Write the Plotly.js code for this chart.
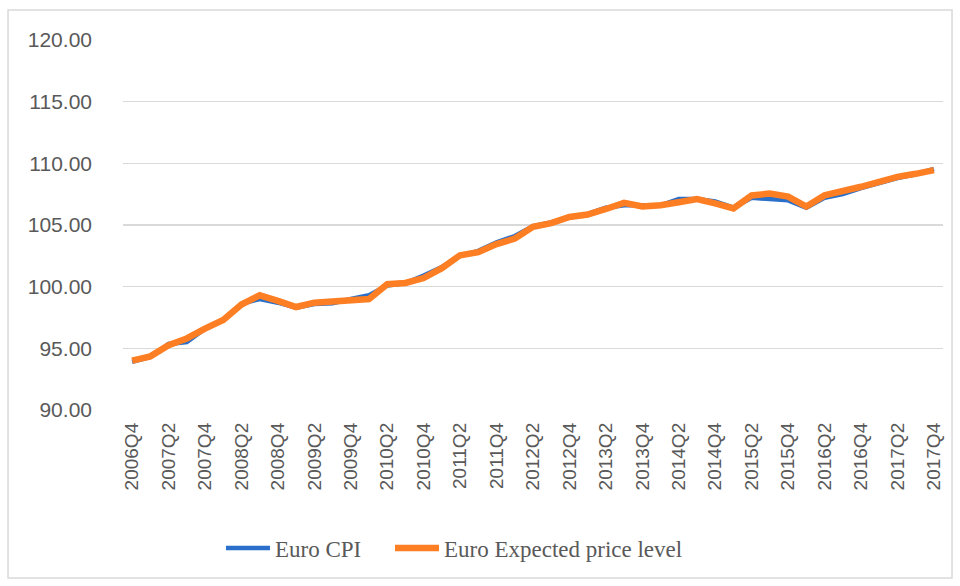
<!DOCTYPE html>
<html>
<head>
<meta charset="utf-8">
<script src="https://cdn.plot.ly/plotly-3.0.1.min.js"></script>
<style>
html,body{margin:0;padding:0;background:#fff;}
#chart{width:960px;height:586px;}
</style>
</head>
<body>
<div id="chart"></div>
<script>
const quarters = [
  "2006Q4",
  "2007Q1","2007Q2","2007Q3","2007Q4",
  "2008Q1","2008Q2","2008Q3","2008Q4",
  "2009Q1","2009Q2","2009Q3","2009Q4",
  "2010Q1","2010Q2","2010Q3","2010Q4",
  "2011Q1","2011Q2","2011Q3","2011Q4",
  "2012Q1","2012Q2","2012Q3","2012Q4",
  "2013Q1","2013Q2","2013Q3","2013Q4",
  "2014Q1","2014Q2","2014Q3","2014Q4",
  "2015Q1","2015Q2","2015Q3","2015Q4",
  "2016Q1","2016Q2","2016Q3","2016Q4",
  "2017Q1","2017Q2","2017Q3","2017Q4"
];

const euroCPI = [
  93.9,
  94.3, 95.35, 95.5, 96.6,
  97.3, 98.6, 99.0, 98.7,
  98.3, 98.6, 98.65, 99.0,
  99.3, 100.1, 100.3, 100.9,
  101.6, 102.5, 102.9, 103.6,
  104.1, 104.9, 105.2, 105.6,
  105.9, 106.4, 106.6, 106.6,
  106.6, 107.1, 107.1, 106.9,
  106.4, 107.2, 107.1, 107.0,
  106.4, 107.2, 107.5, 108.0,
  108.4, 108.8, 109.1, 109.55
];

const euroExpected = [
  94.0,
  94.35, 95.25, 95.8, 96.6,
  97.3, 98.55, 99.3, 98.85,
  98.35, 98.7, 98.8, 98.9,
  99.0, 100.2, 100.3, 100.7,
  101.5, 102.55, 102.8, 103.45,
  103.9, 104.85, 105.15, 105.65,
  105.85, 106.3, 106.8, 106.5,
  106.6, 106.85, 107.1, 106.75,
  106.35, 107.4, 107.55, 107.3,
  106.5, 107.4, 107.7, 108.1,
  108.5, 108.9, 109.15, 109.45
];

const tickQuarters = [
  "2006Q4","2007Q2","2007Q4","2008Q2","2008Q4","2009Q2","2009Q4",
  "2010Q2","2010Q4","2011Q2","2011Q4","2012Q2","2012Q4","2013Q2",
  "2013Q4","2014Q2","2014Q4","2015Q2","2015Q4","2016Q2","2016Q4",
  "2017Q2","2017Q4"
];

const yTicks = [90, 95, 100, 105, 110, 115, 120];

const traces = [
  {
    x: quarters, y: euroCPI, name: "Euro CPI", type: "scatter", mode: "lines",
    line: {color: "#2a6fc9", width: 4.5}, legend: "legend"
  },
  {
    x: quarters, y: euroExpected, name: "Euro Expected price level", type: "scatter", mode: "lines",
    line: {color: "#fd7e23", width: 6.5}, legend: "legend2"
  }
];

const legendFont = {family: "Liberation Serif, serif", size: 23, color: "#595959"};

const layout = {
  width: 960, height: 586,
  margin: {l: 123, r: 17, t: 40, b: 176},
  paper_bgcolor: "#ffffff",
  plot_bgcolor: "#ffffff",
  showlegend: true,
  legend: {
    orientation: "h", x: 0.1195, xanchor: "left", y: -0.373, yanchor: "middle",
    font: legendFont, itemwidth: 44, bgcolor: "rgba(0,0,0,0)"
  },
  legend2: {
    orientation: "h", x: 0.3256, xanchor: "left", y: -0.373, yanchor: "middle",
    font: legendFont, itemwidth: 44, bgcolor: "rgba(0,0,0,0)"
  },
  xaxis: {
    type: "category",
    range: [-0.5, quarters.length - 0.5],
    tickmode: "array",
    tickvals: tickQuarters,
    ticktext: tickQuarters,
    tickangle: -90,
    ticks: "",
    showgrid: false,
    zeroline: false,
    showline: false,
    ticklabelstandoff: 8,
    tickfont: {family: "Liberation Sans, Arial, sans-serif", size: 19, color: "#595959"}
  },
  yaxis: {
    range: [90, 120],
    tickmode: "array",
    tickvals: yTicks,
    ticktext: yTicks.map(v => v.toFixed(2)),
    showgrid: true,
    gridcolor: "#d9d9d9",
    gridwidth: 1.5,
    zeroline: false,
    showline: false,
    ticks: "",
    ticklabelstandoff: 30,
    tickfont: {family: "Liberation Sans, Arial, sans-serif", size: 21, color: "#595959"}
  },
  shapes: [
    {
      type: "rect", xref: "paper", yref: "paper",
      x0: -0.1402, x1: 1.011, y0: -0.454, y1: 1.081,
      line: {color: "#d9d9d9", width: 1.5}, fillcolor: "rgba(0,0,0,0)", layer: "below"
    }
  ]
};

Plotly.newPlot("chart", traces, layout, {displayModeBar: false, staticPlot: true});
</script>
</body>
</html>
